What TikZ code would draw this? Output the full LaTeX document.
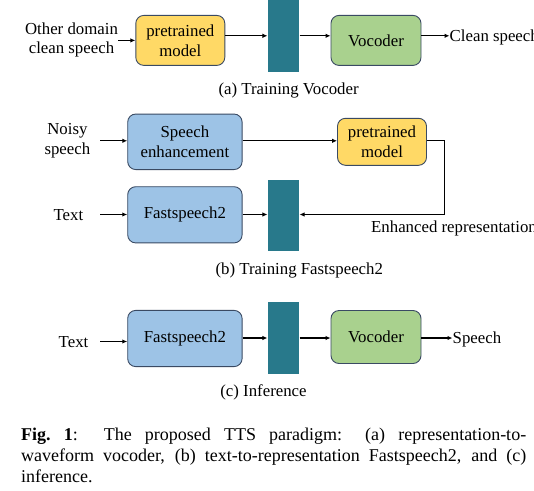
\documentclass[tikz,border=0pt]{standalone}
\usepackage{fontspec}
\setmainfont{Liberation Serif}
\usetikzlibrary{arrows.meta,positioning}
\definecolor{bordercol}{HTML}{3A4A63}
\definecolor{yellowfill}{HTML}{FFD966}
\definecolor{greenfill}{HTML}{A9D18E}
\definecolor{bluefill}{HTML}{9DC3E6}
\definecolor{tealfill}{HTML}{28798B}
\tikzset{
  dfont/.style={font=\fontsize{16.8}{19.8}\selectfont},
  box/.style={dfont, draw=bordercol, line width=0.9pt, rounded corners=8pt, align=center, inner sep=0pt},
  ybox/.style={box, fill=yellowfill, minimum width=89pt, minimum height=50pt},
  gbox/.style={box, fill=greenfill, minimum width=90pt, minimum height=50pt},
  bbox/.style={box, fill=bluefill, minimum width=114.4pt, minimum height=55.5pt},
  bar/.style={fill=tealfill, draw=none, minimum width=31.7pt, minimum height=71.5pt, inner sep=0pt},
  lbl/.style={dfont, align=center, inner sep=0pt},
  arr/.style={-{Latex[length=5pt,width=4.5pt]}, line width=1.1pt, black},
}
\begin{document}
\begin{tikzpicture}[x=1pt,y=-1pt]
\useasboundingbox (0,0) rectangle (534,490);
% (a)
\node[lbl] (in1) at (71.5,40) {Other domain\\clean speech};
\node[ybox] (pm1) at (180.3,40.4) {pretrained\\model};
\node[bar] (bar1) at (283.5,35.8) {};
\node[gbox] (voc1) at (376,40.4) {Vocoder};
\node[lbl, anchor=west] (out1) at (449.5,37) {Clean speech};
\node[lbl] (capa) at (288.6,90) {(a) Training Vocoder};
\draw[arr] (in1.east |- pm1.west) -- (pm1.west);
\draw[arr] (pm1.east |- bar1.west) -- (bar1.west);
\draw[arr] (bar1.east) -- (voc1.west |- bar1.east);
\draw[arr] (voc1.east |- bar1.east) -- (out1.west |- bar1.east);
% (b)
\node[lbl] (in2) at (67.4,140.8) {Noisy\\speech};
\node[bbox] (se) at (184.9,141.8) {Speech\\enhancement};
\node[ybox, minimum height=47pt] (pm2) at (382,141.8) {pretrained\\model};
\node[lbl] (in3) at (68.4,215.3) {Text};
\node[bbox, minimum height=56.2pt] (fs2) at (184.9,214.8) {Fastspeech2};
\node[bar] (bar2) at (283.5,215.4) {};
\node[lbl, anchor=west] (enh) at (371,228) {Enhanced representation};
\node[lbl] (capb) at (299.3,270.5) {(b) Training Fastspeech2};
\coordinate (c1) at (444.4,140.8);
\coordinate (s2) at (100.1,140.8);
\coordinate (s3) at (100.1,214.5);
\draw[arr] (s2) -- (se.west |- s2);
\draw[arr] (se.east |- c1) -- (pm2.west |- c1);
\draw[arr] (pm2.east |- c1) -- (c1) |- (bar2.east |- s3);
\draw[arr] (s3) -- (fs2.west |- s3);
\draw[arr] (fs2.east |- s3) -- (bar2.west |- s3);
% (c)
\node[lbl] (in4) at (73.5,342.1) {Text};
\node[bbox, minimum height=56.2pt] (fs3) at (184.9,338.5) {Fastspeech2};
\node[bar] (bar3) at (283.5,338) {};
\node[gbox, minimum height=53pt] (voc3) at (376,337) {Vocoder};
\node[lbl, anchor=west] (out3) at (452.5,339) {Speech};
\node[lbl] (capc) at (263.5,392.2) {(c) Inference};
\coordinate (s4) at (100.1,341.5);
\draw[arr] (s4) -- (fs3.west |- s4);
\draw[arr] (fs3.east |- bar3.west) -- (bar3.west);
\draw[arr] (bar3.east) -- (voc3.west |- bar3.east);
\draw[arr] (voc3.east |- bar3.east) -- (out3.west |- bar3.east);
% caption
\node[anchor=base west, text width=505pt, align=justify, inner sep=0pt,
      font=\fontsize{18}{21}\selectfont] (cap) at (21,440.5)
  {\textbf{Fig.~1}:\ \ The proposed TTS paradigm: (a) representation-to-\linebreak waveform vocoder, (b) text-to-representation Fastspeech2, and (c)\linebreak inference.};
\end{tikzpicture}
\end{document}
